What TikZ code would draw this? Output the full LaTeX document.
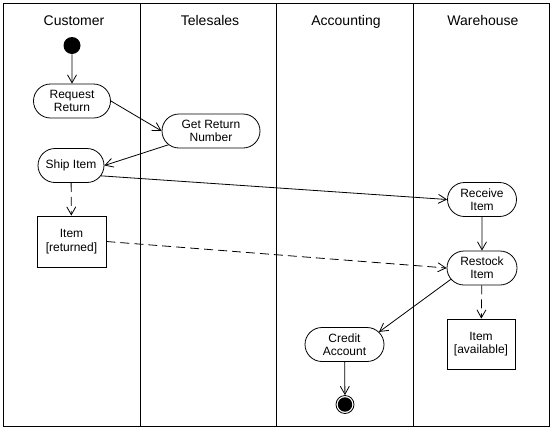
\documentclass[tikz,border=0pt]{standalone}
\usepackage{fontspec}
\setmainfont{Liberation Sans}
\usetikzlibrary{shapes.misc,arrows.meta,positioning}
\tikzset
{
  activity/.style = {rounded rectangle, draw=black, align=center, minimum height=34pt, inner sep=1pt, font=\fontsize{12}{13.3}\selectfont},
  objbox/.style   = {rectangle, draw=black, align=center, minimum height=51pt, inner sep=1pt, font=\fontsize{12}{13.3}\selectfont},
  lanehead/.style = {font=\fontsize{14}{15}\selectfont, text height=10pt, text depth=3pt},
  startnode/.style = {circle, fill=black, inner sep=0pt, minimum size=17pt},
  endnode/.style  = {circle, draw=black, inner sep=0pt, minimum size=18pt, path picture={\fill (path picture bounding box.center) circle (7.2pt);}},
  objflow/.style  = {dash pattern=on 9pt off 5pt}
}

\begin{document}
\begin{tikzpicture}[->,>={Straight Barb[length=8pt,width=9pt]},x=1pt,y=-1pt,line width=0.8pt]
            \useasboundingbox (0,0) rectangle (552,429);
            % swimlanes
            \draw[-] (3,3) rectangle (549,426);
            \draw[-] (140,3) -- (140,426);
            \draw[-] (276,3) -- (276,426);
            \draw[-] (413,3) -- (413,426);
            \node [lanehead] (hcust) at (74,22) {Customer};
            \node [lanehead] (htele) at (210,22) {Telesales};
            \node [lanehead] (hacct) at (346,22) {Accounting};
            \node [lanehead] (hware) at (483,22) {Warehouse};
            % activities
            \node [startnode] (start) at (72,45.5) {};
            \node [activity, minimum width=79pt] (request) at (72,101) {Request\\Return};
            \node [activity, minimum width=100pt] (getnum) at (211,131) {Get Return\\Number};
            \node [activity, minimum width=68pt] (ship) at (71,165.5) {Ship Item};
            \node [objbox, minimum width=69pt] (returned) at (71.5,241.5) {Item\\{[returned]}};
            \node [activity, minimum width=71pt] (receive) at (482,199.5) {Receive\\Item};
            \node [activity, minimum width=72pt] (restock) at (482,268) {Restock\\Item};
            \node [objbox, minimum width=68pt, minimum height=50pt] (available) at (481,344) {Item\\{[available]}};
            \node [activity, minimum width=81pt] (credit) at (344.5,344.5) {Credit\\Account};
            \node [endnode] (stop) at (345,404.5) {};
            % flows
            \draw (start) -- (request);
            \draw (request.east) -- (getnum.west);
            \draw (getnum) -- (ship.east);
            \draw [objflow] (ship) -- (returned);
            \draw (ship.-19) -- (receive.west);
            \draw [objflow] (returned.east) -- (restock.west);
            \draw (receive) -- (restock);
            \draw [objflow] (restock) -- (available);
            \draw (restock.200) -- (credit.20);
            \draw (credit) -- (stop);
          \end{tikzpicture}
\end{document}
